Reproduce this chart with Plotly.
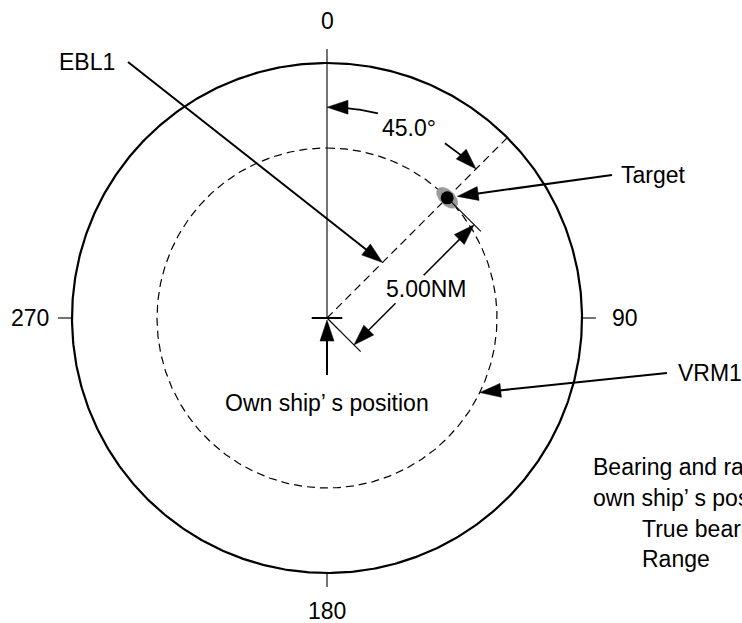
import numpy as np
import plotly.graph_objects as go

# ---------------- data ----------------
bearing_ticks = [0, 90, 180, 270]
bearing_tick_labels = ["0", "90", "180", "270"]
ring_range_nm = 7.5            # outer display ring
vrm_range_nm = 5.00            # VRM1 radius
ebl_bearing_deg = 45.0         # EBL1 bearing
target_bearing_deg = 45.0
target_range_nm = 5.00
bearing_label = "45.0°"
range_label = "5.00NM"
callout_labels = ["EBL1", "Target", "VRM1"]
own_ship_label = "Own ship’ s position"
readout_lines = ["Bearing and range from", "own ship’ s position:", "True bearing", "Range"]

# ---------------- layout constants ----------------
W, H = 742, 623
PX_PER_NM = 34.0
CX, CY = 327.0, 318.0
FONT = "Liberation Sans, Arial, Helvetica, sans-serif"
FS = 23


def pol(b, r):
    t = np.radians(b)
    return np.array([r * np.sin(t), r * np.cos(t)])


def P(px, py):
    return np.array([(px - CX) / PX_PER_NM, (CY - py) / PX_PER_NM])


fig = go.Figure()


def line(pts, width=1.0, dash=None, color="black"):
    pts = np.asarray(pts, float)
    fig.add_trace(go.Scatter(x=pts[:, 0], y=pts[:, 1], mode="lines",
                             line=dict(color=color, width=width, dash=dash),
                             hoverinfo="skip", showlegend=False))


def poly(pts, color="black"):
    pts = np.asarray(pts, float)
    fig.add_trace(go.Scatter(x=np.append(pts[:, 0], pts[0, 0]),
                             y=np.append(pts[:, 1], pts[0, 1]),
                             mode="lines", fill="toself", fillcolor=color,
                             line=dict(color=color, width=0.5),
                             hoverinfo="skip", showlegend=False))


HEAD_L = 21 / PX_PER_NM
HEAD_HW = 7 / PX_PER_NM


def head(tip, d, L=HEAD_L, hw=HEAD_HW):
    d = d / np.linalg.norm(d)
    n = np.array([-d[1], d[0]])
    base = tip - d * L
    poly([tip, base + n * hw, base - n * hw])
    return base


def arrow(tail, tip, width=2.0, L=HEAD_L, hw=HEAD_HW):
    tail = np.asarray(tail, float)
    tip = np.asarray(tip, float)
    d = tip - tail
    base = head(tip, d, L, hw)
    u = d / np.linalg.norm(d)
    line([tail, base + u * 0.05], width)


def arc_arrow(r, b_from, b_to, width=1.5):
    tip = pol(b_to, r)
    sgn = np.sign(b_to - b_from)
    t = np.radians(b_to)
    d = sgn * np.array([np.cos(t), -np.sin(t)])
    head(tip, d)
    b_base = b_to - sgn * np.degrees((HEAD_L - 0.05) / r)
    bs = np.linspace(b_from, b_base, 30)
    line([pol(b, r) for b in bs], width)


origin = pol(0, 0)
theta = np.linspace(0, 360, 721)
TICK = 0.41

# outer ring
line([pol(b, ring_range_nm) for b in theta], 2.2)
# VRM dashed ring
line([pol(b, vrm_range_nm) for b in theta], 1.2, dash="8px,5px")
# heading line (north) and bearing ticks
line([origin, pol(bearing_ticks[0], ring_range_nm + TICK)], 1.1)
for b in bearing_ticks[1:]:
    line([pol(b, ring_range_nm), pol(b, ring_range_nm + TICK)], 1.1)
# EBL dashed line
line([origin, pol(ebl_bearing_deg, ring_range_nm)], 1.2, dash="8px,5px")
# own ship cross
line([pol(270, 0.45), pol(90, 0.45)], 2.0)

# target with halo
T = pol(target_bearing_deg, target_range_nm)
u_t = pol(target_bearing_deg + 90, 1.0)
v_r = pol(target_bearing_deg, 1.0)
s = np.linspace(0, 2 * np.pi, 60)
halo = [T + 0.38 * np.cos(a) * u_t + 0.22 * np.sin(a) * v_r for a in s]
poly(halo, color="#9a9a9a")
fig.add_trace(go.Scatter(x=[T[0]], y=[T[1]], mode="markers",
                         marker=dict(color="black", size=13),
                         hoverinfo="skip", showlegend=False))

# range dimension
ext = pol(ebl_bearing_deg + 90, 1.4)
line([origin, origin + ext], 1.1)
line([T, T + ext], 1.1)
off = pol(ebl_bearing_deg + 90, 1.12)
arrow(off + pol(ebl_bearing_deg, 1.73), off, width=1.5)
arrow(off + pol(ebl_bearing_deg, 2.9), off + pol(ebl_bearing_deg, target_range_nm), width=1.5)

# bearing angle arcs
ARC_R = 6.2
arc_arrow(ARC_R, 14, bearing_ticks[0], width=1.8)
arc_arrow(ARC_R, 34, ebl_bearing_deg, width=1.8)

# call-out leaders
arrow(P(128, 62), pol(ebl_bearing_deg, 2.31))
tail_t = P(612, 175)
arrow(tail_t, T + (tail_t - T) / np.linalg.norm(tail_t - T) * 0.3)
arrow(P(667, 373), pol(116, vrm_range_nm))
arrow(pol(180, 1.68), pol(180, 0.06))

# ---------------- text ----------------
ann = []


def txt(pos, text, xanchor="center", yshift=0):
    ann.append(dict(x=pos[0], y=pos[1], xref="x", yref="y", text=text,
                    showarrow=False, xanchor=xanchor, yanchor="middle", yshift=yshift,
                    font=dict(family=FONT, size=FS, color="black")))


for b, lab in zip(bearing_ticks, bearing_tick_labels):
    txt(pol(b, ring_range_nm + 1.25), lab, yshift=(5 if b == 180 else 0))

txt(P(57, 62), callout_labels[0], "left")
txt(P(619, 175), callout_labels[1], "left")
txt(P(676, 373), callout_labels[2], "left")
txt(P(327, 403), own_ship_label)
txt(P(409, 128), bearing_label)
txt(P(426, 289), range_label)
txt(P(591, 467), readout_lines[0], "left")
txt(P(591, 498), readout_lines[1], "left")
txt(P(640, 529), readout_lines[2], "left")
txt(P(640, 559), readout_lines[3], "left")

fig.update_layout(
    width=W, height=H,
    margin=dict(l=0, r=0, t=0, b=0),
    paper_bgcolor="white", plot_bgcolor="white",
    xaxis=dict(range=[-CX / PX_PER_NM, (W - CX) / PX_PER_NM], visible=False, fixedrange=True),
    yaxis=dict(range=[-(H - CY) / PX_PER_NM, CY / PX_PER_NM], visible=False, fixedrange=True),
    showlegend=False,
    annotations=ann,
)

fig.write_html("out.html", config={"displayModeBar": False},
               post_script="document.body.style.margin='0';document.body.style.overflow='hidden';")
